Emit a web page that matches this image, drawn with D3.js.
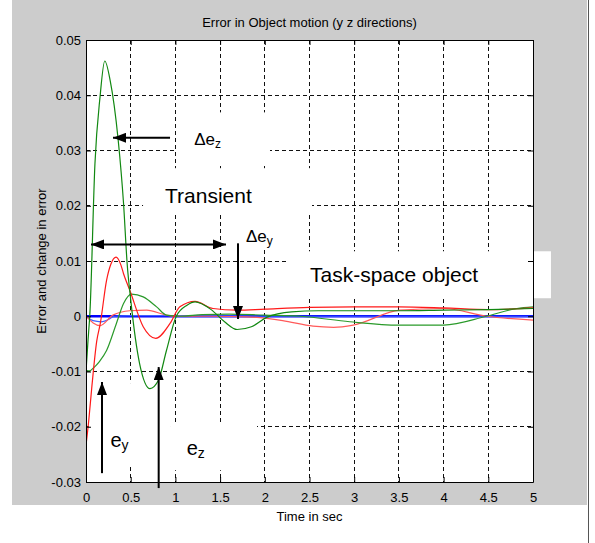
<!DOCTYPE html>
<html>
<head>
<title>Error in Object motion</title>
<style>
  body { margin: 0; background-color: #ffffff; }
  svg { display: block; }
  .tick text { font-family: "Liberation Sans", Arial, sans-serif; font-size: 13px; fill: #000; }
  .lbl { font-family: "Liberation Sans", Arial, sans-serif; fill: #000; }
</style>
</head>
<body>
<svg id="chart" width="595" height="543"></svg>

<script src="https://cdnjs.cloudflare.com/ajax/libs/d3/7.8.5/d3.min.js"></script>
<script>
  // tick values and labels
  const xTicks = [0, 0.5, 1, 1.5, 2, 2.5, 3, 3.5, 4, 4.5, 5];
  const xTickLabels = ["0", "0.5", "1", "1.5", "2", "2.5", "3", "3.5", "4", "4.5", "5"];
  const yTicks = [-0.03, -0.02, -0.01, 0, 0.01, 0.02, 0.03, 0.04, 0.05];
  const yTickLabels = ["-0.03", "-0.02", "-0.01", "0", "0.01", "0.02", "0.03", "0.04", "0.05"];

  // delta e_z (green, big overshoot)
  const dezT = [0, 0.02, 0.045, 0.1, 0.157, 0.21, 0.27, 0.36, 0.42, 0.46, 0.5, 0.6, 0.716, 0.81, 0.9, 1.01, 1.13, 1.22, 1.4, 1.55, 1.69, 1.85, 2.02, 2.3, 2.6, 3.0, 3.5, 4.0, 4.5, 5.0];
  const dezV = [-0.01, -0.005, 0.001, 0.0276, 0.0397, 0.0462, 0.0427, 0.0319, 0.0204, 0.0096, 0.003, -0.0086, -0.0131, -0.0116, -0.0062, 0.0, 0.002, 0.0026, 0.0012, -0.001, -0.0024, -0.0019, -0.0002, 0.0008, 0.001, 0.001, 0.001, 0.0011, 0.0012, 0.0014];

  // e_z (green)
  const ezT = [0, 0.04, 0.08, 0.15, 0.23, 0.34, 0.42, 0.51, 0.64, 0.79, 0.9, 1.05, 1.3, 1.6, 2.0, 2.4, 2.95, 3.5, 4.0, 4.48, 4.82, 5.0];
  const ezV = [-0.0098, -0.0099, -0.0094, -0.0082, -0.0062, -0.0013, 0.0023, 0.004, 0.0035, 0.0017, 0.0002, 0.0, 0.0003, 0.0004, 0.0002, 0.0, -0.001, -0.0016, -0.0016, 0.0, 0.0014, 0.0017];

  // e_y (red)
  const eyT = [0, 0.03, 0.064, 0.12, 0.16, 0.23, 0.28, 0.336, 0.39, 0.42, 0.49, 0.64, 0.78, 0.94, 1.05, 1.22, 1.42, 1.69, 2.0, 2.5, 3.0, 3.5, 4.0, 4.5, 5.0];
  const eyV = [-0.0234, -0.019, -0.013, -0.0045, -0.0013, 0.0065, 0.0095, 0.0107, 0.0093, 0.0077, 0.0047, -0.0019, -0.004, -0.0013, 0.0017, 0.0027, 0.0014, 0.0011, 0.0013, 0.0016, 0.0017, 0.0017, 0.0015, 0.0012, 0.0015];

  // delta e_y (light red)
  const deyT = [0, 0.08, 0.157, 0.3, 0.49, 0.68, 0.9, 1.01, 1.4, 1.8, 2.2, 2.54, 2.77, 2.99, 3.51, 4.0, 4.48, 5.0];
  const deyV = [0, -0.0012, -0.0017, 0.0002, 0.001, 0.0011, 0.0002, 0.0, 0.0, -0.0001, -0.0008, -0.0018, -0.002, -0.0016, 0.0011, 0.0014, 0.0, -0.0007];

  // task-space object (blue)
  const objT = [0, 1, 2, 3, 4, 5];
  const objV = [0, 0, 0, 0, 0, 0];
  const objDipT = [0, 0.08, 0.17, 0.25, 0.32, 0.5, 1, 2, 3, 4, 5];
  const objDipV = [0, -0.0008, -0.001, -0.0006, 0, 0.0001, 0.0001, 0, 0, 0, 0];

  const svg = d3.select("#chart");
  const W = 595, H = 543;
  const margin = { left: 86, right: 62, top: 40, bottom: 61 };

  const x = d3.scaleLinear().domain([0, 5]).range([margin.left, W - margin.right]);
  const y = d3.scaleLinear().domain([-0.03, 0.05]).range([H - margin.bottom, margin.top]);

  // grey figure background
  svg.append("rect").attr("x", 12).attr("y", 0).attr("width", 575).attr("height", 505).attr("fill", "#cccccc");
  svg.append("line").attr("x1", 588.5).attr("x2", 588.5).attr("y1", 0).attr("y2", H)
    .attr("stroke", "#555").attr("stroke-width", 1);

  // plot area
  svg.append("rect")
    .attr("x", x(0)).attr("y", y(0.05))
    .attr("width", x(5) - x(0)).attr("height", y(-0.03) - y(0.05))
    .attr("fill", "#ffffff");

  // dashed grid
  const grid = svg.append("g").attr("stroke", "#111").attr("stroke-width", 1)
    .attr("stroke-dasharray", "4,3").attr("shape-rendering", "crispEdges");
  grid.selectAll(".gx").data(xTicks.slice(1, -1)).enter().append("line")
    .attr("x1", d => x(d)).attr("x2", d => x(d)).attr("y1", y(0.05)).attr("y2", y(-0.03));
  grid.selectAll(".gy").data(yTicks.slice(1, -1)).enter().append("line")
    .attr("y1", d => y(d)).attr("y2", d => y(d)).attr("x1", x(0)).attr("x2", x(5));

  // white text boxes pasted over the figure (data coords)
  const boxes = [
    [1.007, 2.058, 0.0369, 0.0273],
    [0.638, 2.528, 0.0268, 0.0188],
    [1.588, 2.394, 0.0188, 0.0125],
    [2.248, 5.201, 0.01176, 0.00326],
    [0.034, 0.94, -0.0121, -0.027],
    [0.94, 1.913, -0.01937, -0.02787]
  ];
  svg.selectAll(".box").data(boxes).enter().append("rect")
    .attr("x", d => x(d[0])).attr("width", d => x(d[1]) - x(d[0]))
    .attr("y", d => y(d[2])).attr("height", d => y(d[3]) - y(d[2]))
    .attr("fill", "#ffffff");

  // curves
  svg.append("clipPath").attr("id", "clip").append("rect")
    .attr("x", x(0)).attr("y", y(0.05)).attr("width", x(5) - x(0)).attr("height", y(-0.03) - y(0.05));

  const line = d3.line().x(d => x(d[0])).y(d => y(d[1])).curve(d3.curveMonotoneX);
  const series = [
    { t: objT, v: objV, color: "#0000ff", w: 2.5 },
    { t: objDipT, v: objDipV, color: "#4060ff", w: 1.2 },
    { t: deyT, v: deyV, color: "#ff5a5a", w: 1.2 },
    { t: ezT, v: ezV, color: "#2a9a2a", w: 1.2 },
    { t: eyT, v: eyV, color: "#ff1a1a", w: 1.2 },
    { t: dezT, v: dezV, color: "#118811", w: 1.2 }
  ];
  const curves = svg.append("g").attr("clip-path", "url(#clip)");
  series.forEach(s => {
    curves.append("path")
      .datum(d3.zip(s.t, s.v))
      .attr("d", line)
      .attr("fill", "none")
      .attr("stroke", s.color)
      .attr("stroke-width", s.w);
  });

  // axes with inward ticks
  const fmtX = (d, i) => xTickLabels[i];
  const fmtY = (d, i) => yTickLabels[i];
  svg.append("g").attr("transform", `translate(0,${y(-0.03)})`)
    .call(d3.axisBottom(x).tickValues(xTicks).tickFormat(fmtX).tickSizeInner(-5).tickSizeOuter(0).tickPadding(11));
  svg.append("g").attr("transform", `translate(${x(0)},0)`)
    .call(d3.axisLeft(y).tickValues(yTicks).tickFormat(fmtY).tickSizeInner(-5).tickSizeOuter(0).tickPadding(5));
  svg.append("g").attr("transform", `translate(0,${y(0.05)})`)
    .call(d3.axisTop(x).tickValues(xTicks).tickFormat("").tickSizeInner(-5).tickSizeOuter(0));
  svg.append("g").attr("transform", `translate(${x(5)},0)`)
    .call(d3.axisRight(y).tickValues(yTicks).tickFormat("").tickSizeInner(-5).tickSizeOuter(0));
  svg.selectAll(".domain").attr("stroke", "#000");
  svg.selectAll(".tick line").attr("stroke", "#000");

  // titles
  svg.append("text").attr("class", "lbl").attr("x", (x(0) + x(5)) / 2).attr("y", 27)
    .attr("text-anchor", "middle").attr("font-size", 13).text("Error in Object motion (y z directions)");
  svg.append("text").attr("class", "lbl").attr("x", (x(0) + x(5)) / 2).attr("y", 521)
    .attr("text-anchor", "middle").attr("font-size", 13).text("Time in sec");
  svg.append("text").attr("class", "lbl")
    .attr("transform", `translate(46,${(y(0.05) + y(-0.03)) / 2}) rotate(-90)`)
    .attr("text-anchor", "middle").attr("font-size", 13).text("Error and change in error");

  // arrows
  const defs = svg.append("defs");
  defs.append("marker").attr("id", "head").attr("viewBox", "0 -5 13 10")
    .attr("refX", 13).attr("refY", 0).attr("markerUnits", "userSpaceOnUse")
    .attr("markerWidth", 13).attr("markerHeight", 10).attr("orient", "auto-start-reverse")
    .append("path").attr("d", "M0,-5L13,0L0,5Z").attr("fill", "#000");

  const arrows = [
    { from: [0.94, 0.0323], to: [0.302, 0.0323], both: false },
    { from: [0.056, 0.013], to: [1.566, 0.013], both: true },
    { from: [1.70, 0.0132], to: [1.70, -0.0005], both: false },
    { from: [0.179, -0.0284], to: [0.179, -0.0119], both: false },
    { from: [0.813, -0.0311], to: [0.813, -0.0092], both: false }
  ];
  arrows.forEach(a => {
    const l = svg.append("line")
      .attr("x1", x(a.from[0])).attr("y1", y(a.from[1]))
      .attr("x2", x(a.to[0])).attr("y2", y(a.to[1]))
      .attr("stroke", "#000").attr("stroke-width", 2)
      .attr("marker-end", "url(#head)");
    if (a.both) l.attr("marker-start", "url(#head)");
  });

  // annotation texts
  function subLabel(t, v, main, sub, size, subSize, shift) {
    const tx = svg.append("text").attr("class", "lbl").attr("x", x(t)).attr("y", y(v)).attr("font-size", size);
    tx.append("tspan").text(main);
    tx.append("tspan").attr("font-size", subSize).attr("dy", shift).text(sub);
  }
  subLabel(1.21, 0.031, "\u0394e", "z", 17, 12, 3);
  subLabel(1.79, 0.01345, "\u0394e", "y", 17, 12, 3);
  subLabel(0.274, -0.02366, "e", "y", 20, 14, 3);
  subLabel(1.126, -0.02516, "e", "z", 20, 14, 3);

  svg.append("text").attr("class", "lbl").attr("x", x(0.884)).attr("y", y(0.02045))
    .attr("font-size", 21).text("Transient");
  svg.append("text").attr("class", "lbl").attr("x", x(2.506)).attr("y", y(0.0062))
    .attr("font-size", 21).text("Task-space object");
</script>
</body>
</html>
